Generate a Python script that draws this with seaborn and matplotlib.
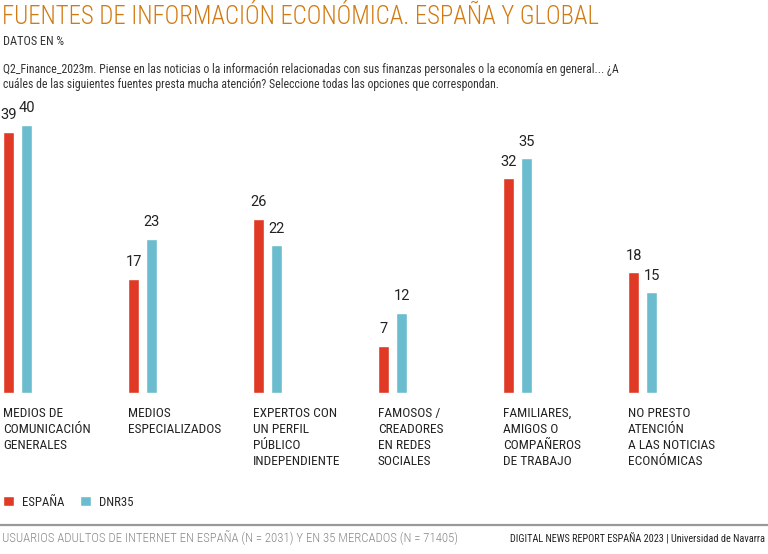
"""Fuentes de información económica: España vs DNR35."""

import pandas as pd
import matplotlib.pyplot as plt
import matplotlib.transforms as mtransforms
import seaborn as sns

# =========================
# DATOS
# =========================
categorias = [
    "MEDIOS DE\nCOMUNICACIÓN\nGENERALES",
    "MEDIOS\nESPECIALIZADOS",
    "EXPERTOS CON\nUN PERFIL\nPÚBLICO\nINDEPENDIENTE",
    "FAMOSOS /\nCREADORES\nEN REDES\nSOCIALES",
    "FAMILIARES,\nAMIGOS O\nCOMPAÑEROS\nDE TRABAJO",
    "NO PRESTO\nATENCIÓN\nA LAS NOTICIAS\nECONÓMICAS",
]
espana = [39, 17, 26, 7, 32, 18]
dnr35 = [40, 23, 22, 12, 35, 15]
series = ["ESPAÑA", "DNR35"]
colores = ["#E03A26", "#6BBCCE"]

NARROW = ["Roboto Condensed", "DejaVu Sans"]
NUM = ["Roboto", "DejaVu Sans"]


def build_df():
    rows = []
    for i, cat in enumerate(categorias):
        rows.append({"cat": cat, "serie": series[0], "valor": espana[i]})
        rows.append({"cat": cat, "serie": series[1], "valor": dnr35[i]})
    return pd.DataFrame(rows)


def main():
    sns.set_style("white")
    plt.rcParams["font.family"] = NARROW

    df = build_df()
    fig = plt.figure(figsize=(7.68, 5.54), dpi=100)
    ax = fig.add_axes([0, 1 - 393 / 554, 1, 293 / 554])

    sns.barplot(data=df, x="cat", y="valor", hue="serie", palette=colores,
                saturation=1, width=0.288, gap=0.39, ax=ax, legend=True)

    for cont in ax.containers:
        ax.bar_label(cont, padding=7, fontsize=10.5, color="#222222", family=NUM)

    ax.set_xlim(-0.14, 6.004)
    ax.set_ylim(0, 43.7)
    ax.set_xlabel("")
    ax.set_ylabel("")
    ax.set_xticks([])
    ax.set_yticks([])
    sns.despine(ax=ax, left=True, bottom=True)

    # etiquetas de categorías alineadas con la barra roja
    trans = mtransforms.blended_transform_factory(ax.transData, fig.transFigure)
    for i, cat in enumerate(categorias):
        ax.text(i - 0.116, 1 - 407 / 554, cat, transform=trans, ha="left",
                va="top", fontsize=9.6, color="#222222", linespacing=1.3)

    # leyenda
    handles, labels = ax.get_legend_handles_labels()
    ax.get_legend().remove()
    fig.legend(handles, labels, loc="center left",
               bbox_to_anchor=(3 / 768, 1 - 502 / 554), ncol=2, frameon=False,
               borderpad=0, borderaxespad=0,
               handlelength=0.86, handleheight=0.86, handletextpad=0.63,
               columnspacing=1.25, fontsize=9.2)

    # títulos
    fig.text(0.003, 1 - 16.5 / 554, "FUENTES DE INFORMACIÓN ECONÓMICA. ESPAÑA Y GLOBAL",
             fontsize=17.8, fontweight="light", color="#D27A12", va="center", ha="left")
    fig.text(0.004, 1 - 41.5 / 554, "DATOS EN %", fontsize=8.8, color="#333333",
             va="center")
    fig.text(0.004, 1 - 77 / 554,
             "Q2_Finance_2023m. Piense en las noticias o la información relacionadas con sus "
             "finanzas personales o la economía en general... ¿A\n"
             "cuáles de las siguientes fuentes presta mucha atención? Seleccione todas las "
             "opciones que correspondan.",
             fontsize=8.5, color="#333333", va="center", linespacing=1.25)

    # pie
    fig.add_artist(plt.Line2D([0, 1], [1 - 525 / 554, 1 - 525 / 554],
                              transform=fig.transFigure, color="#999999", lw=1.6))
    fig.text(0.002, 1 - 538 / 554,
             "USUARIOS ADULTOS DE INTERNET EN ESPAÑA (N = 2031) Y EN 35 MERCADOS (N = 71405)",
             fontsize=9.2, fontweight="light", color="#888888", va="center")
    fig.text(0.996, 1 - 538 / 554,
             "DIGITAL NEWS REPORT ESPAÑA 2023 | Universidad de Navarra",
             fontsize=7.4, color="#222222", va="center", ha="right")

    fig.savefig("out.png", dpi=100)


if __name__ == "__main__":
    main()
